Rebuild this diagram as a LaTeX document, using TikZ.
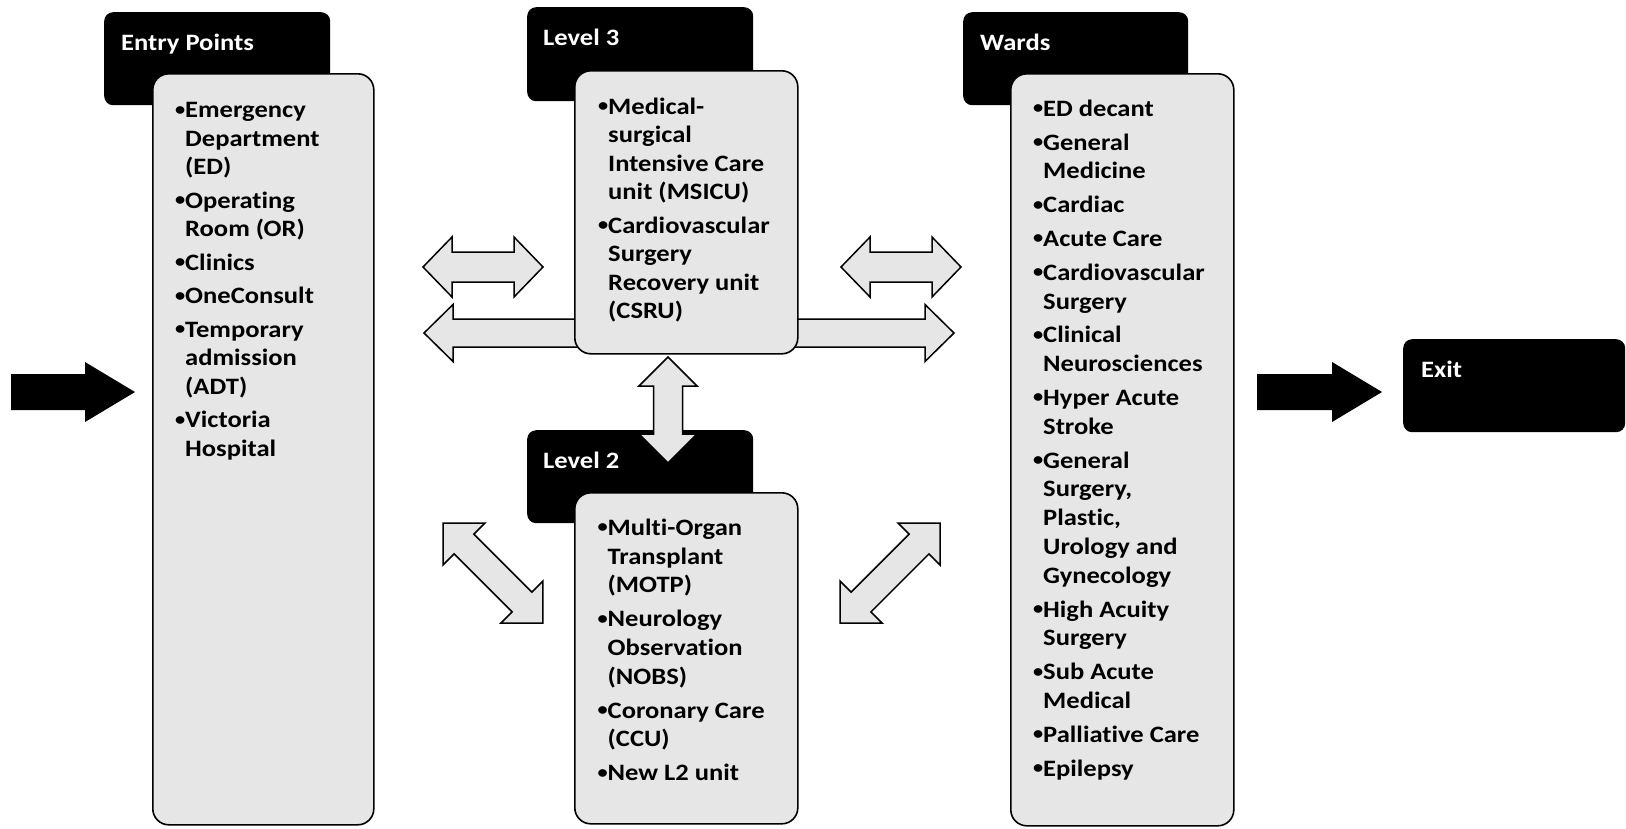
\documentclass[tikz,border=0pt]{standalone}
\usepackage{fontspec}
\setmainfont{Carlito}[FakeStretch=1.13, Ligatures=NoCommon]
\definecolor{boxgray}{RGB}{230,230,230}
\newcommand{\mybul}{\makebox[10pt][l]{\raisebox{2.5pt}{\fontsize{18}{18}\selectfont •}}}
\newcommand{\myind}{\hspace*{10pt}}
\newcommand{\rl}{\rule{0pt}{19pt}}
\tikzset{
 hdr/.style={fill=black, draw=none, rounded corners=9pt, anchor=north west, inner sep=0pt},
 panel/.style={fill=boxgray, draw=black, line width=1.6pt, rounded corners=16pt, anchor=north west, inner sep=0pt},
 hdrtxt/.style={text=white, font=\fontsize{23.5}{28.5}\selectfont\bfseries, anchor=base west, inner sep=0pt},
 listtxt/.style={text=black, font=\fontsize{23.5}{#1}\selectfont\bfseries, align=left, anchor=north west, inner sep=0pt},
 arr/.style={fill=boxgray, draw=black, line width=1.5pt, line join=miter},
 blk/.style={fill=black, draw=none},
}
% double block arrow: cx, cy, angle, half length, head length, head half width, shaft half width
\newcommand{\dblarrow}[7]{%
\begin{scope}[shift={(#1,#2)},rotate=#3]
\draw[arr] (-#4,0) -- ({-#4+#5},-#6) -- ({-#4+#5},-#7) -- ({#4-#5},-#7) -- ({#4-#5},-#6) -- (#4,0) -- ({#4-#5},#6) -- ({#4-#5},#7) -- ({-#4+#5},#7) -- ({-#4+#5},#6) -- cycle;
\end{scope}}
\begin{document}
\begin{tikzpicture}[x=1pt,y=-1pt]
\useasboundingbox (0,0) rectangle (1626,828);
% long arrow behind Level 3 panel
\dblarrow{689}{333}{0}{265}{29}{28.5}{14}
% headers
\node[hdr, minimum width=226pt, minimum height=93pt] (entryH) at (104,12) {};
\node[hdr, minimum width=226pt, minimum height=94pt] (l3H) at (527,7) {};
\node[hdr, minimum width=226pt, minimum height=93pt] (l2H) at (527,430) {};
\node[hdr, minimum width=225pt, minimum height=93pt] (wardsH) at (963,12) {};
\node[hdr, minimum width=222pt, minimum height=93pt] (exitH) at (1403,339) {};
% panels
\node[panel, minimum width=221pt, minimum height=751pt] (entryP) at (152,73) {};
\node[panel, minimum width=223pt, minimum height=283pt] (l3P) at (574,70) {};
\node[panel, minimum width=223pt, minimum height=331pt] (l2P) at (574,492) {};
\node[panel, minimum width=223pt, minimum height=752pt] (wardsP) at (1010,73) {};
% other block arrows
\dblarrow{483}{267}{0}{60}{29}{30}{15}
\dblarrow{901}{267}{0}{60}{29}{30}{15}
\dblarrow{668}{410}{90}{53}{29}{29}{14.5}
\dblarrow{493}{573}{-45}{70.7}{29.7}{29.7}{14}
\dblarrow{890}{573}{45}{70.7}{29.7}{29.7}{14}
% black entry / exit arrows
\draw[blk] (11,374) -- (85,374) -- (85,362) -- (135,392) -- (85,422) -- (85,410) -- (11,410) -- cycle;
\draw[blk] (1257,374) -- (1332,374) -- (1332,362) -- (1382,392) -- (1332,422) -- (1332,410) -- (1257,410) -- cycle;
% header texts
\node[hdrtxt] (entryT) at (121,50) {Entry Points};
\node[hdrtxt] (l3T) at (543,45) {Level 3};
\node[hdrtxt] (l2T) at (543,468) {Level 2};
\node[hdrtxt] (wardsT) at (980,50) {Wards};
\node[hdrtxt] (exitT) at (1421,377) {Exit};
% list texts
\node[listtxt=28.5] (entryL) at (175,98.5) {\rl\mybul Emergency\\ \myind Department\\ \myind (ED)\\[5pt]
\mybul Operating\\ \myind Room (OR)\\[5pt]
\mybul Clinics\\[5pt]
\mybul OneConsult\\[5pt]
\mybul Temporary\\ \myind admission\\ \myind (ADT)\\[5pt]
\mybul Victoria\\ \myind Hospital};
\node[listtxt=28.5] (l3L) at (598,95) {\rl\mybul Medical-\\ \myind surgical\\ \myind Intensive Care\\ \myind unit (MSICU)\\[5pt]
\mybul Cardiovascular\\ \myind Surgery\\ \myind Recovery unit\\ \myind (CSRU)};
\node[listtxt=28.8] (l2L) at (597.5,516) {\rl\mybul Multi-Organ\\ \myind Transplant\\ \myind (MOTP)\\[5pt]
\mybul Neurology\\ \myind Observation\\ \myind (NOBS)\\[5pt]
\mybul Coronary Care\\ \myind (CCU)\\[5pt]
\mybul New L2 unit};
\node[listtxt=28.8] (wardsL) at (1033,97) {\rl\mybul ED decant\\[5pt]
\mybul General\\ \myind Medicine\\[5pt]
\mybul Cardiac\\[5pt]
\mybul Acute Care\\[5pt]
\mybul Cardiovascular\\ \myind Surgery\\[5pt]
\mybul Clinical\\ \myind Neurosciences\\[5pt]
\mybul Hyper Acute\\ \myind Stroke\\[5pt]
\mybul General\\ \myind Surgery,\\ \myind Plastic,\\ \myind Urology and\\ \myind Gynecology\\[5pt]
\mybul High Acuity\\ \myind Surgery\\[5pt]
\mybul Sub Acute\\ \myind Medical\\[5pt]
\mybul Palliative Care\\[5pt]
\mybul Epilepsy};
\end{tikzpicture}
\end{document}
